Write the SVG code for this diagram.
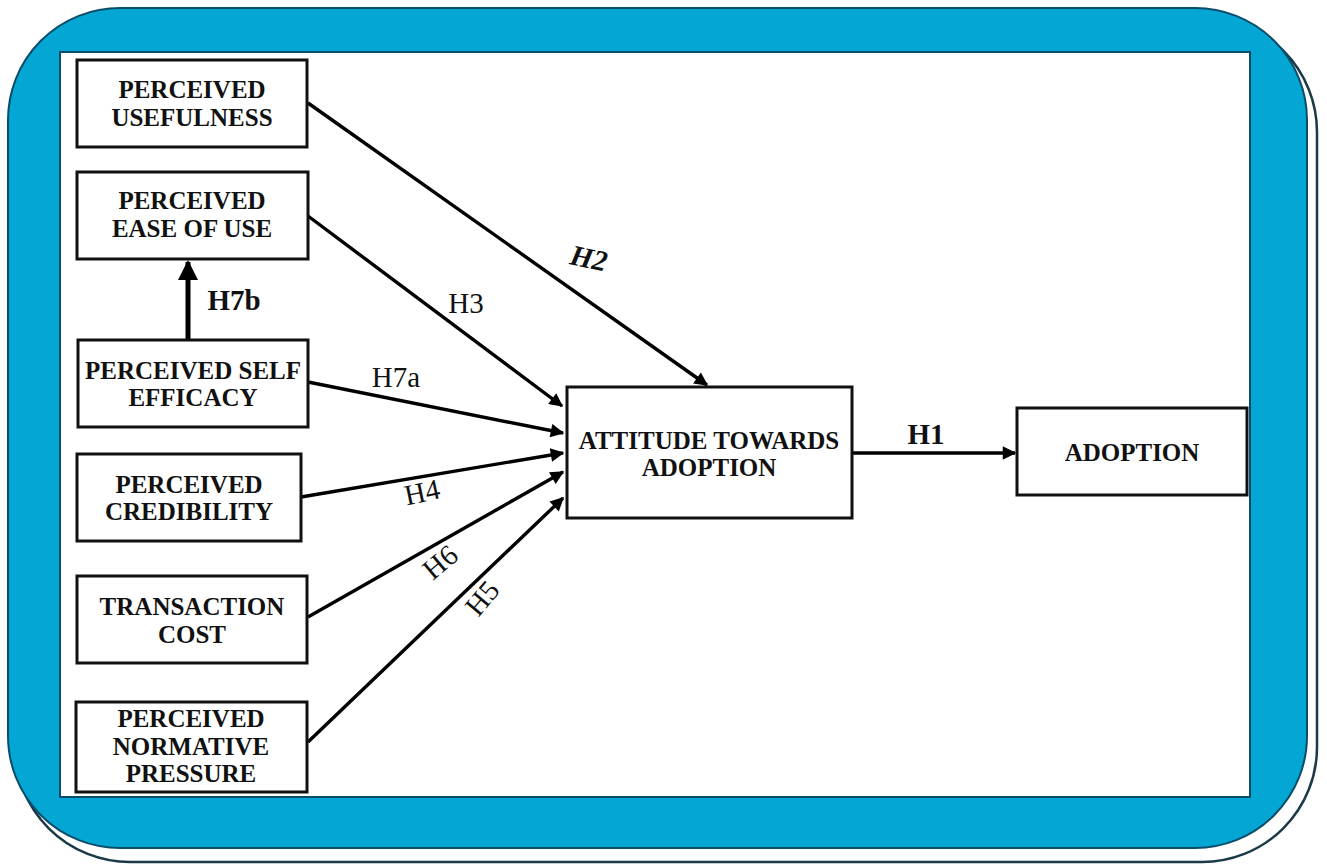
<svg xmlns="http://www.w3.org/2000/svg" width="1327" height="865" viewBox="0 0 1327 865">
<defs>
<style>
.box{fill:#fff;stroke:#111;stroke-width:3}
.t{font-family:"Liberation Serif",serif;font-weight:bold;font-size:25px;fill:#111;text-anchor:middle}
.lbl{font-family:"Liberation Serif",serif;font-size:29px;fill:#111;text-anchor:middle}
.con{stroke:#000;stroke-width:3.4;fill:none;marker-end:url(#ah)}
</style>
<marker id="ah" viewBox="0 0 10 10" refX="9" refY="5" markerWidth="5.5" markerHeight="4" markerUnits="strokeWidth" orient="auto">
<path d="M0,0 L10,5 L0,10 z" fill="#000"/>
</marker>
</defs>
<rect width="1327" height="865" fill="#fff"/>
<g id="frame">
<rect x="15" y="17" width="1302" height="845" rx="115" ry="115" fill="none" stroke="#1b3a47" stroke-width="2.5"/>
<rect x="8" y="8" width="1299" height="840" rx="112" ry="112" fill="#04a7d4" stroke="#0a4d6a" stroke-width="2"/>
<rect x="60" y="52" width="1190" height="745" fill="#fff" stroke="#0b4c6c" stroke-width="2"/>
</g>
<g id="connectors">
<line class="con" x1="308" y1="103" x2="707" y2="385"/>
<line class="con" x1="308" y1="216" x2="562" y2="406"/>
<line class="con" x1="308" y1="382" x2="563" y2="433"/>
<line class="con" x1="301" y1="497" x2="563" y2="453"/>
<line class="con" x1="308" y1="617" x2="563" y2="472"/>
<line class="con" x1="308" y1="742" x2="563" y2="498"/>
<line class="con" x1="852" y1="453" x2="1015" y2="453"/>
<line x1="188" y1="340" x2="188" y2="262" stroke="#000" stroke-width="5" marker-end="url(#ah)"/>
<text class="lbl" x="589" y="268" font-weight="bold" font-style="italic" transform="rotate(12 589 258)">H2</text>
<text class="lbl" x="466" y="313">H3</text>
<text class="lbl" x="234" y="310" font-weight="bold">H7b</text>
<text class="lbl" x="396" y="387">H7a</text>
<text class="lbl" x="422" y="502" transform="rotate(-12 422 492)">H4</text>
<text class="lbl" x="440" y="572" transform="rotate(-40 440 562)">H6</text>
<text class="lbl" x="482" y="608" transform="rotate(-50 482 598)">H5</text>
<text class="lbl" x="926" y="444" font-weight="bold">H1</text>
</g>
<g id="pu"><rect class="box" x="77" y="60" width="230" height="87"/><text class="t" x="192" y="98">PERCEIVED</text><text class="t" x="192" y="126">USEFULNESS</text></g>
<g id="peou"><rect class="box" x="77" y="172" width="231" height="87"/><text class="t" x="192" y="209">PERCEIVED</text><text class="t" x="192" y="237">EASE OF USE</text></g>
<g id="pse"><rect class="box" x="78" y="340" width="230" height="87"/><text class="t" x="193" y="379">PERCEIVED SELF</text><text class="t" x="193" y="406">EFFICACY</text></g>
<g id="pc"><rect class="box" x="77" y="454" width="224" height="87"/><text class="t" x="189" y="493">PERCEIVED</text><text class="t" x="189" y="520">CREDIBILITY</text></g>
<g id="tc"><rect class="box" x="77" y="576" width="230" height="87"/><text class="t" x="192" y="615">TRANSACTION</text><text class="t" x="192" y="643">COST</text></g>
<g id="pnp"><rect class="box" x="76" y="702" width="231" height="90"/><text class="t" x="191" y="727">PERCEIVED</text><text class="t" x="191" y="755">NORMATIVE</text><text class="t" x="191" y="782">PRESSURE</text></g>
<g id="ata"><rect class="box" x="567" y="387" width="285" height="131"/><text class="t" x="709" y="449">ATTITUDE TOWARDS</text><text class="t" x="709" y="476">ADOPTION</text></g>
<g id="adoption"><rect class="box" x="1017" y="408" width="230" height="87"/><text class="t" x="1132" y="461">ADOPTION</text></g>
</svg>
